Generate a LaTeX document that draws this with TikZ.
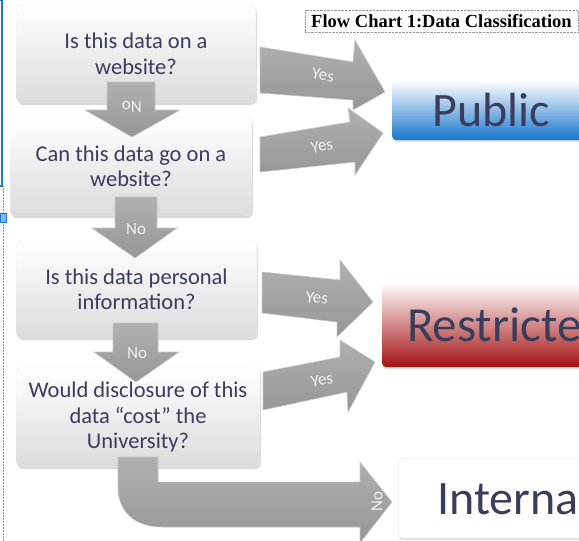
\documentclass[tikz,border=0pt]{standalone}
\usepackage{fontspec}
\setmainfont{Carlito}
\newfontfamily\titlefont{Liberation Serif}
\usetikzlibrary{shadows}

\definecolor{qtext}{RGB}{58,62,92}
\definecolor{markblue}{RGB}{30,120,210}
\definecolor{pubblue}{RGB}{25,118,205}
\definecolor{resred}{RGB}{165,18,18}

\begin{document}
\begin{tikzpicture}[x=1pt,y=-1pt]
\tikzset{
  qbox/.style={rounded corners=6pt, draw=gray!15, top color=white, bottom color=gray!28,
    drop shadow={opacity=0.3,shadow xshift=1pt,shadow yshift=-2pt},
    align=center, text=qtext, font=\fontsize{22.5}{25.5}\selectfont},
  cbox/.style={rounded corners=4pt, text=qtext, inner sep=0pt, anchor=north west,
    text width=260pt, align=left,
    drop shadow={opacity=0.25,shadow xshift=1pt,shadow yshift=-2pt}},
  blockarrow/.style={draw=gray!45, line width=0.6pt, top color=gray!62, bottom color=gray!82},
  lbl/.style={text=gray!12, font=\fontsize{17}{19}\selectfont, inner sep=0pt}
}
\useasboundingbox (0,0) rectangle (579,541);
\clip (0,0) rectangle (579,541);

% Marks at the left edge
\draw[markblue, line width=1.3pt] (-2,0) rectangle (2,186);
\draw[markblue!70, densely dotted, line width=0.5pt] (3.5,186) -- (3.5,541);
\draw[markblue, fill=markblue!55] (0,213) rectangle (6,222);

% Question boxes
\node[qbox, minimum width=240pt, minimum height=98pt] (q1) at (136,54) {Is this data on a\\website?};
\node[qbox, minimum width=242pt, minimum height=99pt] (q2) at (131,166.5) {Can this data go on a\\website?};
\node[qbox, minimum width=241pt, minimum height=97pt] (q3) at (136.5,289.5) {Is this data personal\\information?};
\node[qbox, minimum width=244pt, minimum height=100pt] (q4) at (138,417) {Would disclosure of this\\data “cost” the\\University?};

% Classes
\node[cbox, minimum height=60pt, top color=white, middle color=pubblue!45, bottom color=pubblue,
  font=\fontsize{48}{48}\selectfont] (public) at (392,80) {\hspace*{40pt}\mbox{Public}};
\node[cbox, minimum height=85pt, top color=white, middle color=resred!35, bottom color=resred,
  font=\fontsize{49}{49}\selectfont] (restricted) at (382,282) {\hspace*{25pt}\mbox{Restricted}};
\node[cbox, minimum height=80pt, fill=white, draw=gray!25,
  font=\fontsize{48}{48}\selectfont] (internal) at (398,458) {\hspace*{39pt}\mbox{Internal}};

% Down arrows (No)
\draw[blockarrow] (107,82) -- (155,82) -- (155,110) -- (180,110) -- (132,137) -- (85,110) -- (107,110) -- cycle;
\node[lbl, rotate=180] (no1) at (132,107) {No};
\draw[blockarrow] (115,197) -- (157,197) -- (157,228) -- (177,228) -- (135,258) -- (92,228) -- (115,228) -- cycle;
\node[lbl] (no2) at (136,229) {No};
\draw[blockarrow] (113,323) -- (158,323) -- (158,352) -- (179,352) -- (136,382) -- (94,352) -- (113,352) -- cycle;
\node[lbl] (no3) at (137,353) {No};

% Bent arrow to Internal
\draw[blockarrow] (118,457) -- (158,457) -- (158,482) -- (360,482) -- (360,462) -- (392,502) -- (360,543)
  -- (360,527) -- (162,527) .. controls (135,527) and (118,512) .. (118,487) -- cycle;
\node[lbl, rotate=90] (no4) at (377,502) {No};

% Yes arrows
\draw[blockarrow] (260,47) -- (353,62) -- (355,40) -- (385,92) -- (353,110) -- (353,100) -- (260,93) -- cycle;
\node[lbl, rotate=-9] (yes1) at (323,75) {Yes};
\draw[blockarrow] (260,137) -- (350,122) -- (348,108) -- (383,133) -- (355,175) -- (355,162) -- (260,172) -- cycle;
\node[lbl, rotate=9] (yes2) at (322,146) {Yes};
\draw[blockarrow] (262,272) -- (340,280) -- (340,260) -- (373,302) -- (337,337) -- (337,322) -- (262,313) -- cycle;
\node[lbl, rotate=-6] (yes3) at (317,298) {Yes};
\draw[blockarrow] (263,372) -- (340,357) -- (340,340) -- (375,362) -- (348,412) -- (347,392) -- (263,410) -- cycle;
\node[lbl, rotate=9] (yes4) at (322,380) {Yes};

% Title
\node[draw=gray!80, densely dotted, fill=white, inner sep=0pt, minimum width=273pt, minimum height=22pt,
  font=\titlefont\bfseries\fontsize{18.5}{20}\selectfont] (title) at (441.5,21) {Flow Chart 1:Data Classification};

\end{tikzpicture}
\end{document}
